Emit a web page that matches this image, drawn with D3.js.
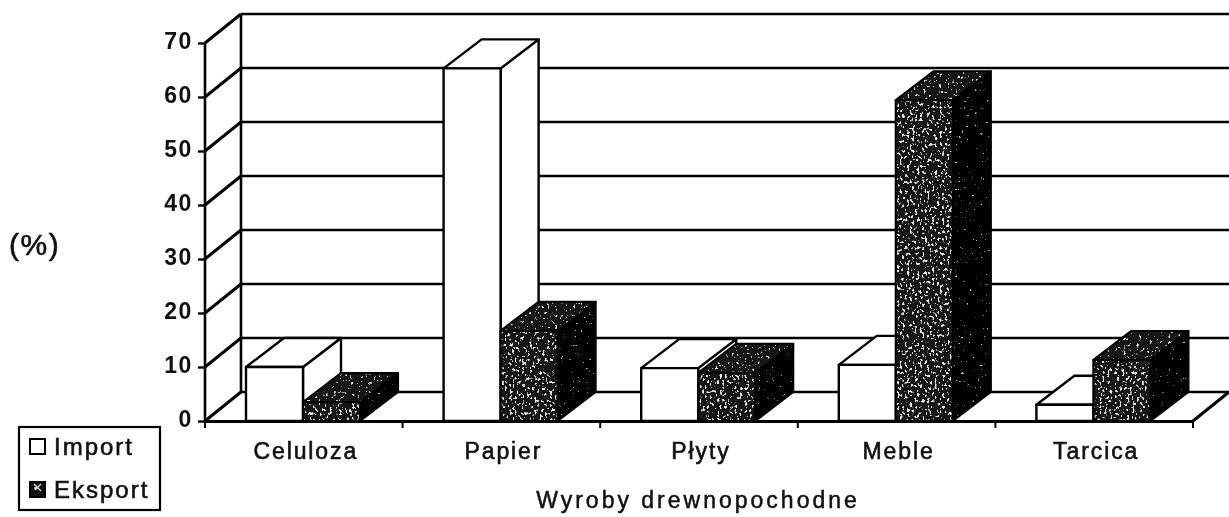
<!DOCTYPE html>
<html><head><meta charset="utf-8">
<script src="https://cdn.jsdelivr.net/npm/d3@7"></script>
<style>
html,body{margin:0;padding:0;background:#fff;overflow:hidden}
svg{display:block;filter:blur(.5px)}
text{font-family:"Liberation Sans",Arial,sans-serif;fill:#111}
</style></head><body>
<svg id="c" width="1229" height="517"></svg>
<script>
const categories = ["Celuloza","Papier","Płyty","Meble","Tarcica"];
const importValues = [10, 65.3, 9.8, 10.4, 3];
const eksportValues = [3.5, 16.7, 8.9, 59.4, 11.3];
const yTicks = [0,10,20,30,40,50,60,70];
const seriesNames = ["Import","Eksport"];
const xTitle = "Wyroby drewnopochodne";
const yTitle = "(%)";

const svg = d3.select("#c");
const y = d3.scaleLinear().domain([0,70]).range([421,43]);
const x = d3.scaleBand().domain(categories).range([205,1193]);
const x1 = d3.scaleBand().domain(seriesNames).range([41,155]);
const dx = 36, barDx = 38, dy = -29, rightEdge = 1229;

// textures
const defs = svg.append("defs");
function speck(id, freq, cut, seed, grey){
  const f = defs.append("filter").attr("id",id).attr("x",0).attr("y",0).attr("width","100%").attr("height","100%");
  f.append("feTurbulence").attr("type","fractalNoise").attr("baseFrequency",freq).attr("numOctaves",2).attr("seed",seed).attr("result","n");
  f.append("feColorMatrix").attr("in","n").attr("type","matrix")
   .attr("values",`0 0 0 0 ${grey}  0 0 0 0 ${grey}  0 0 0 0 ${grey}  14 0 0 0 ${-14*cut}`).attr("result","w");
  f.append("feComposite").attr("in","w").attr("in2","SourceAlpha").attr("operator","in").attr("result","c");
  const m = f.append("feMerge");
  m.append("feMergeNode").attr("in","SourceGraphic");
  m.append("feMergeNode").attr("in","c");
}
speck("fFront","0.40 0.32",0.60,3,0.8);
speck("fTop","0.38 0.34",0.66,8,0.75);
speck("fSide","0.36 0.36",0.74,5,0.6);
const sw = defs.append("pattern").attr("id","sw").attr("patternUnits","userSpaceOnUse").attr("width",15).attr("height",15);
sw.append("rect").attr("width",15).attr("height",15).attr("fill","#111");
sw.append("path").attr("d","M4 4l7 7M11 4l-6 6M4 8h4").attr("stroke","#ddd").attr("stroke-width",1.4).attr("fill","none");

// walls and gridlines
const grid = svg.append("g").attr("stroke","#000").attr("fill","none");
grid.selectAll("line.back").data(yTicks).join("line")
  .attr("x1",205+dx).attr("x2",rightEdge)
  .attr("y1",d=>y(d)+dy).attr("y2",d=>y(d)+dy).attr("stroke-width",2.4);
grid.selectAll("line.wall").data(yTicks).join("line")
  .attr("x1",205).attr("x2",205+dx)
  .attr("y1",d=>y(d)).attr("y2",d=>y(d)+dy).attr("stroke-width",3);
grid.append("line").attr("x1",205).attr("x2",205).attr("y1",y(70)).attr("y2",y(0)).attr("stroke-width",2.6);
grid.append("line").attr("x1",205+dx).attr("x2",205+dx).attr("y1",y(70)+dy).attr("y2",y(0)+dy).attr("stroke-width",2.6);
grid.append("line").attr("x1",x.range()[1]).attr("x2",x.range()[1]+dx).attr("y1",y(0)).attr("y2",y(0)+dy).attr("stroke-width",3);

// bars
function bar(g, cat, name, v, dark){
  const l = x(cat)+x1(name), r = l+x1.bandwidth(), t = y(v), b = y(0);
  const line = d3.line();
  const face = (pts, fill, flt) => {
    const p = g.append("path").attr("d",line(pts)+"Z").attr("fill",fill);
    if (dark) p.attr("filter",`url(#${flt})`);
    g.append("path").attr("d",line(pts)+"Z").attr("fill","none")
     .attr("stroke","#000").attr("stroke-width",dark?2.2:2.4).attr("stroke-linejoin","round");
  };
  face([[r,b],[r+barDx,b+dy],[r+barDx,t+dy],[r,t]], dark?"#050505":"#fff","fSide");
  face([[l,t],[r,t],[r+barDx,t+dy],[l+barDx,t+dy]], dark?"#151515":"#fff","fTop");
  face([[l,b],[r,b],[r,t],[l,t]], dark?"#181818":"#fff","fFront");
}
const bars = svg.append("g");
categories.forEach((c,i)=>{
  bar(bars,c,"Import",importValues[i],false);
  bar(bars,c,"Eksport",eksportValues[i],true);
});

// axes
const yAxis = d3.axisLeft(y).tickValues(yTicks).tickSize(7).tickPadding(5);
const gy = svg.append("g").attr("transform","translate(205,0)").call(yAxis);
gy.select(".domain").remove();
gy.selectAll("line").attr("stroke","#000").attr("stroke-width",2.4);
gy.selectAll("text").attr("font-size",23).attr("font-weight",700).attr("letter-spacing",1.6)
  .attr("dy","0.25em").attr("font-family",'"Liberation Sans",Arial,sans-serif');

const xAxis = d3.axisBottom(x).tickSizeOuter(0).tickFormat("");
const gx = svg.append("g").attr("transform","translate(0,421)").call(xAxis);
gx.select(".domain").attr("stroke","#000").attr("stroke-width",3);
gx.selectAll(".tick").remove();
gx.selectAll("line.t").data(x.domain().map(d=>x(d)).concat(x.range()[1])).join("line")
  .attr("x1",d=>d).attr("x2",d=>d).attr("y1",0).attr("y2",7).attr("stroke","#000").attr("stroke-width",2);
svg.append("g").selectAll("text").data(categories).join("text")
  .attr("x",d=>x(d)+x.bandwidth()/2+2).attr("y",459).attr("text-anchor","middle")
  .attr("font-size",23).attr("letter-spacing",1.9).attr("stroke","#111").attr("stroke-width",.6).text(d=>d);

svg.append("text").attr("x",698).attr("y",508).attr("text-anchor","middle")
  .attr("font-size",23).attr("letter-spacing",3).attr("stroke","#111").attr("stroke-width",.5).text(xTitle);
svg.append("text").attr("x",9).attr("y",255)
  .attr("font-size",30).attr("letter-spacing",1.5).attr("stroke","#111").attr("stroke-width",.6).text(yTitle);

// legend
const lg = svg.append("g");
lg.append("rect").attr("x",19).attr("y",427).attr("width",141).attr("height",83).attr("fill","#fff").attr("stroke","#000").attr("stroke-width",2.2);
const ly = d3.scalePoint().domain(seriesNames).range([447,490]);
seriesNames.forEach((n,i)=>{
  lg.append("rect").attr("x",30).attr("y",ly(n)-8).attr("width",15).attr("height",15)
    .attr("fill",i?"url(#sw)":"#fff").attr("stroke","#000").attr("stroke-width",2);
  lg.append("text").attr("x",54).attr("y",ly(n)+8).attr("font-size",24).attr("letter-spacing",2)
    .attr("stroke","#111").attr("stroke-width",.6).text(n);
});
</script>
</body></html>
